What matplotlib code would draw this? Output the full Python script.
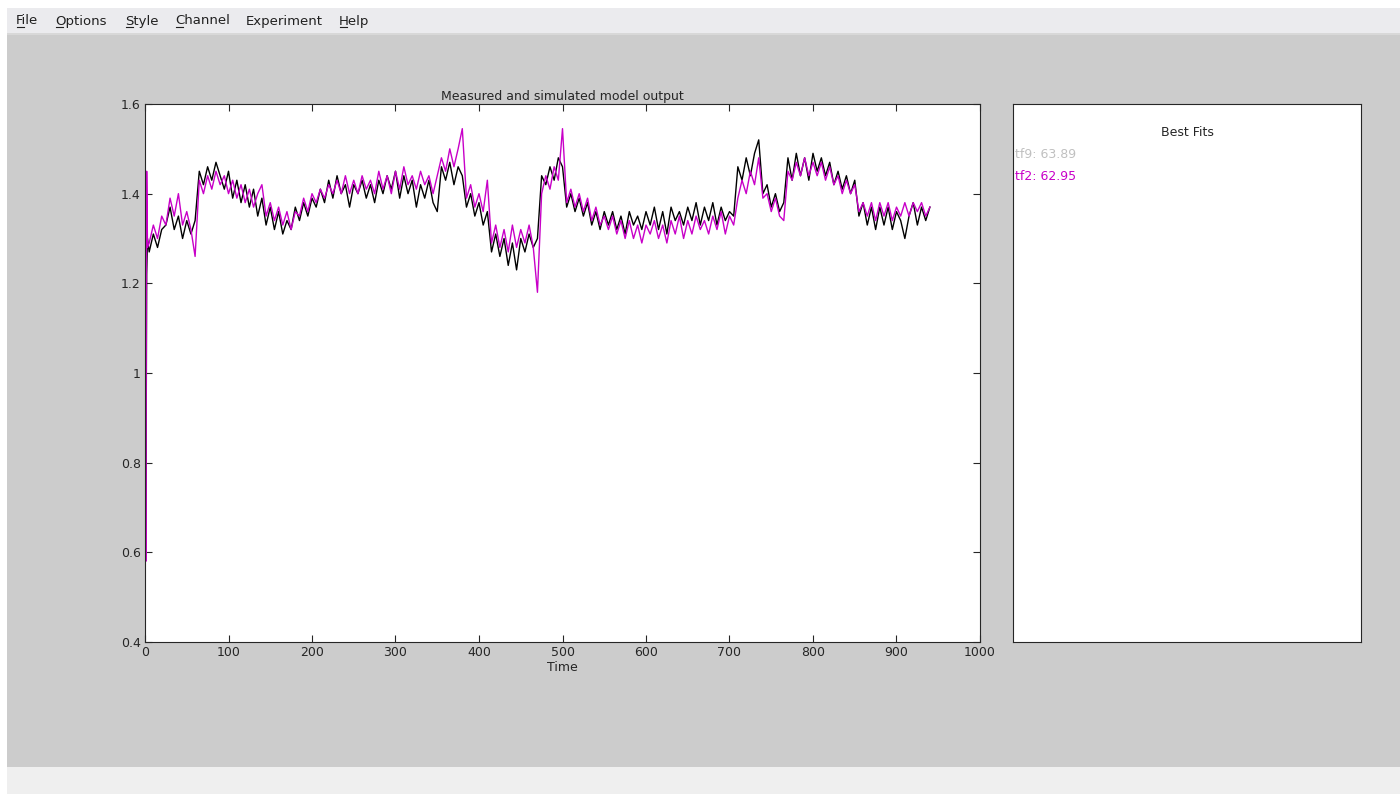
import numpy as np
import matplotlib
matplotlib.use("Agg")
import matplotlib.pyplot as plt
from matplotlib.lines import Line2D
from matplotlib.patches import Rectangle

# Time base: a few samples at the very start, then every 5 s
time_head = [0, 1, 2, 3]
time_step = np.arange(5, 941, 5)
time = np.concatenate([time_head, time_step])

# Measured output (black)
measured = [
    1.00, 0.62, 1.22, 1.30,
    1.27, 1.31, 1.28, 1.32, 1.33, 1.37, 1.32, 1.35, 1.30, 1.34,
    1.31, 1.34, 1.45, 1.42, 1.46, 1.43, 1.47, 1.44, 1.41, 1.45,
    1.39, 1.43, 1.38, 1.42, 1.37, 1.41, 1.35, 1.39, 1.33, 1.37,
    1.32, 1.36, 1.31, 1.34, 1.32, 1.37, 1.34, 1.38, 1.35, 1.39,
    1.37, 1.41, 1.38, 1.43, 1.39, 1.44, 1.40, 1.42, 1.37, 1.42,
    1.40, 1.43, 1.39, 1.42, 1.38, 1.43, 1.40, 1.44, 1.41, 1.45,
    1.39, 1.44, 1.40, 1.43, 1.37, 1.42, 1.39, 1.43, 1.38, 1.36,
    1.46, 1.43, 1.47, 1.42, 1.46, 1.44, 1.37, 1.40, 1.35, 1.38,
    1.33, 1.36, 1.27, 1.31, 1.26, 1.30, 1.24, 1.29, 1.23, 1.30,
    1.27, 1.31, 1.28, 1.30, 1.44, 1.42, 1.46, 1.43, 1.48, 1.46,
    1.37, 1.40, 1.36, 1.39, 1.35, 1.38, 1.33, 1.36, 1.32, 1.36,
    1.33, 1.36, 1.32, 1.35, 1.31, 1.36, 1.33, 1.35, 1.32, 1.36,
    1.33, 1.37, 1.32, 1.36, 1.31, 1.37, 1.34, 1.36, 1.33, 1.37,
    1.34, 1.38, 1.33, 1.37, 1.34, 1.38, 1.33, 1.37, 1.34, 1.36,
    1.35, 1.46, 1.43, 1.48, 1.44, 1.49, 1.52, 1.40, 1.42, 1.37,
    1.40, 1.36, 1.38, 1.48, 1.43, 1.49, 1.44, 1.48, 1.43, 1.49,
    1.45, 1.48, 1.44, 1.47, 1.42, 1.45, 1.41, 1.44, 1.40, 1.43,
    1.35, 1.38, 1.33, 1.37, 1.32, 1.37, 1.33, 1.37, 1.32, 1.36,
    1.34, 1.30, 1.35, 1.38, 1.33, 1.37, 1.34, 1.37,
]

# Simulated model output tf2 (magenta)
simulated = [
    1.00, 0.58, 1.45, 1.28,
    1.29, 1.33, 1.30, 1.35, 1.33, 1.39, 1.35, 1.40, 1.33, 1.36,
    1.32, 1.26, 1.43, 1.40, 1.44, 1.41, 1.45, 1.42, 1.44, 1.40,
    1.43, 1.39, 1.42, 1.38, 1.41, 1.37, 1.40, 1.42, 1.35, 1.38,
    1.34, 1.37, 1.33, 1.36, 1.32, 1.36, 1.35, 1.39, 1.36, 1.40,
    1.38, 1.41, 1.39, 1.42, 1.40, 1.43, 1.40, 1.44, 1.40, 1.43,
    1.40, 1.44, 1.41, 1.43, 1.40, 1.45, 1.41, 1.44, 1.40, 1.45,
    1.41, 1.46, 1.42, 1.44, 1.41, 1.45, 1.42, 1.44, 1.40, 1.44,
    1.48, 1.45, 1.50, 1.46, 1.50, 1.545, 1.39, 1.42, 1.37, 1.40,
    1.36, 1.43, 1.29, 1.33, 1.28, 1.32, 1.27, 1.33, 1.28, 1.32,
    1.29, 1.33, 1.28, 1.18, 1.40, 1.44, 1.41, 1.46, 1.43, 1.545,
    1.38, 1.41, 1.37, 1.40, 1.36, 1.39, 1.34, 1.37, 1.33, 1.35,
    1.32, 1.35, 1.31, 1.34, 1.30, 1.34, 1.30, 1.33, 1.29, 1.33,
    1.31, 1.34, 1.30, 1.33, 1.29, 1.34, 1.31, 1.35, 1.30, 1.34,
    1.31, 1.35, 1.32, 1.34, 1.31, 1.35, 1.32, 1.36, 1.31, 1.35,
    1.33, 1.39, 1.43, 1.40, 1.45, 1.42, 1.48, 1.39, 1.40, 1.36,
    1.39, 1.35, 1.34, 1.45, 1.43, 1.47, 1.44, 1.48, 1.44, 1.47,
    1.44, 1.47, 1.43, 1.46, 1.42, 1.44, 1.40, 1.43, 1.40, 1.42,
    1.36, 1.38, 1.35, 1.38, 1.34, 1.38, 1.35, 1.38, 1.34, 1.37,
    1.35, 1.38, 1.35, 1.38, 1.36, 1.38, 1.35, 1.37,
]

menu_items = ["File", "Options", "Style", "Channel", "Experiment", "Help"]
menu_x = [16, 55, 125, 175, 246, 339]
menu_underline = [True, True, True, True, False, True]

fit_labels = ["tf9: 63.89", "tf2: 62.95"]
fit_colors = ["#c0c0c0", "#c800c8"]

W, H = 1400, 794
fig = plt.figure(figsize=(W / 100, H / 100), dpi=100, facecolor="#cccccc")


def px(x, y):
    # pixel position (from top-left) -> figure fraction
    return x / W, 1 - y / H


# window chrome: white border, menu bar, status strip
fig.patches.append(Rectangle((0, 0), 1, 1, transform=fig.transFigure,
                             facecolor="white", edgecolor="none", zorder=-3))
fig.patches.append(Rectangle(px(7, 767), 1, (767 - 35) / H, transform=fig.transFigure,
                             facecolor="#cccccc", edgecolor="none", zorder=-2))
fig.patches.append(Rectangle(px(7, 33), 1, 25 / H, transform=fig.transFigure,
                             facecolor="#ebebee", edgecolor="none", zorder=-2))
fig.patches.append(Rectangle(px(7, 35), 1, 2 / H, transform=fig.transFigure,
                             facecolor="#d8d8d8", edgecolor="none", zorder=-2))
fig.patches.append(Rectangle(px(7, 794), 1, 27 / H, transform=fig.transFigure,
                             facecolor="#efefef", edgecolor="none", zorder=-2))

for name, x, ul in zip(menu_items, menu_x, menu_underline):
    fig.text(*px(x, 21), name, fontsize=9.5, color="#202020", va="center", ha="left")
    if ul:
        x0, y0 = px(x + 1, 26.5)
        x1, _ = px(x + 8, 26.5)
        fig.lines.append(Line2D([x0, x1], [y0, y0], transform=fig.transFigure,
                                color="#202020", linewidth=0.8))

# main axes
l, t = px(145, 104)
r, b = px(980, 642)
ax = fig.add_axes([l, b, r - l, t - b], facecolor="white")
ax.plot(time, measured, color="black", linewidth=1.0)
ax.plot(time, simulated, color="#c800c8", linewidth=1.0)
ax.set_xlim(0, 1000)
ax.set_ylim(0.4, 1.6)
ax.set_xticks(np.arange(0, 1001, 100))
ax.set_yticks([0.4, 0.6, 0.8, 1.0, 1.2, 1.4, 1.6])
ax.set_yticklabels(["0.4", "0.6", "0.8", "1", "1.2", "1.4", "1.6"])
ax.tick_params(direction="in", length=5, width=0.8, top=True, right=True,
               labelsize=9, colors="#262626", pad=3)
for sp in ax.spines.values():
    sp.set_color("#262626")
    sp.set_linewidth(0.8)
ax.set_title("Measured and simulated model output", fontsize=9, color="#262626", pad=3)
ax.set_xlabel("Time", fontsize=9, color="#262626", labelpad=1)

# best fits panel
l2, _ = px(1013, 104)
r2, _ = px(1361, 642)
ax2 = fig.add_axes([l2, b, r2 - l2, t - b], facecolor="white")
ax2.set_xticks([])
ax2.set_yticks([])
for sp in ax2.spines.values():
    sp.set_color("#262626")
    sp.set_linewidth(0.8)
fig.text(*px(1187, 132), "Best Fits", fontsize=9, color="#262626", ha="center", va="center")
for i, (lab, col) in enumerate(zip(fit_labels, fit_colors)):
    fig.text(*px(1015, 154 + 22 * i), lab, fontsize=9, color=col, ha="left", va="center")

fig.savefig("out.png", dpi=100, facecolor=fig.get_facecolor())
